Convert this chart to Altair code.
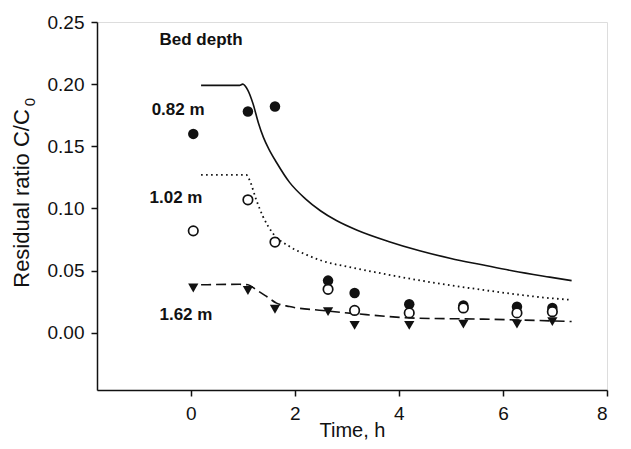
import altair as alt
import pandas as pd

# ---- data ----
times = [0.05, 1.1, 1.62, 2.64, 3.15, 4.2, 5.24, 6.27, 6.95]
depth_082 = [0.160, 0.178, 0.182, 0.042, 0.032, 0.023, 0.022, 0.021, 0.020]
depth_102 = [0.082, 0.107, 0.073, 0.035, 0.018, 0.016, 0.020, 0.016, 0.017]
depth_162 = [0.036, 0.034, 0.019, 0.017, 0.006, 0.006, 0.007, 0.007, 0.009]

model_082_t = [0.2, 0.94, 1.0, 1.1, 1.2, 1.3, 1.4, 1.5, 1.65, 1.9, 2.2, 2.5, 2.8, 3.2, 3.8, 4.4, 5.0, 5.6, 6.2, 6.9, 7.32]
model_082_v = [0.199, 0.199, 0.2, 0.195, 0.184, 0.169, 0.157, 0.148, 0.137, 0.121, 0.108, 0.098, 0.0903, 0.0825, 0.0735, 0.066, 0.0598, 0.0547, 0.0497, 0.0448, 0.042]

model_102_t = [0.2, 1.07, 1.13, 1.26, 1.39, 1.58, 1.9, 2.23, 2.54, 3.1, 3.7, 4.34, 4.98, 5.62, 6.26, 6.9, 7.32]
model_102_v = [0.127, 0.127, 0.123, 0.107, 0.0935, 0.0801, 0.0694, 0.0627, 0.0577, 0.0525, 0.0475, 0.0426, 0.0383, 0.0345, 0.0309, 0.0279, 0.0265]

model_162_t = [0.2, 0.94, 1.1, 1.26, 1.46, 1.65, 1.9, 2.54, 3.19, 4.34, 5.62, 7.32]
model_162_v = [0.0386, 0.039, 0.0386, 0.0346, 0.0292, 0.0239, 0.0211, 0.0179, 0.0153, 0.0118, 0.011, 0.0091]

label_text = ["Bed depth", "0.82 m", "1.02 m", "1.62 m"]
label_t = [-0.6, -0.75, -0.79, -0.6]
label_v = [0.2355, 0.179, 0.1085, 0.0145]

x_ticks = [0, 2, 4, 6, 8]
y_ticks = [0.0, 0.05, 0.10, 0.15, 0.20, 0.25]

FONT = "Liberation Sans"
INK = "#111111"

xscale = alt.Scale(domain=[-1.8, 8], nice=False, zero=False)
yscale = alt.Scale(domain=[-0.046, 0.25], nice=False, zero=False)

xaxis = alt.Axis(values=x_ticks, format="d", grid=False, title="Time, h",
                 domainColor=INK, domainWidth=1.5, tickColor=INK, tickWidth=1.5, tickSize=6,
                 labelFont=FONT, labelFontSize=19, labelColor=INK, labelPadding=8,
                 titleFont=FONT, titleFontSize=20, titleFontWeight="normal", titleColor=INK,
                 titleBaseline="alphabetic", titleY=46)
yaxis = alt.Axis(values=y_ticks, format=".2f", grid=False, title="Residual ratio C/C",
                 domainColor=INK, domainWidth=1.5, tickColor=INK, tickWidth=1.5, tickSize=6,
                 labelFont=FONT, labelFontSize=19, labelColor=INK, labelPadding=7,
                 titleFont=FONT, titleFontSize=22, titleFontWeight="normal", titleColor=INK,
                 titleAngle=270, titleAlign="center", titleBaseline="alphabetic",
                 titleX=-69, titleY=176)


def df(t, v):
    return pd.DataFrame({"t": t, "v": v, "i": list(range(len(t)))})


def enc(ch):
    return ch.encode(x=alt.X("t:Q", scale=xscale, axis=xaxis),
                     y=alt.Y("v:Q", scale=yscale, axis=yaxis))


line082 = enc(alt.Chart(df(model_082_t, model_082_v)).mark_line(color=INK, strokeWidth=1.6, interpolate="monotone")).encode(order="i:Q")
line102 = enc(alt.Chart(df(model_102_t, model_102_v)).mark_line(color=INK, strokeWidth=1.8, strokeDash=[1.6, 3.4], interpolate="monotone")).encode(order="i:Q")
line162 = enc(alt.Chart(df(model_162_t, model_162_v)).mark_line(color=INK, strokeWidth=1.6, strokeDash=[10, 5], interpolate="monotone")).encode(order="i:Q")

pts082 = enc(alt.Chart(df(times, depth_082)).mark_point(shape="circle", filled=True, color=INK, size=110, opacity=1))
pts102 = enc(alt.Chart(df(times, depth_102)).mark_point(shape="circle", filled=True, fill="white", stroke=INK, strokeWidth=1.7, size=90, opacity=1))
pts162 = enc(alt.Chart(df(times, depth_162)).mark_point(shape="triangle-down", filled=True, color=INK, size=105, opacity=1))

labels = enc(alt.Chart(pd.DataFrame({"t": label_t, "v": label_v, "s": label_text})).mark_text(
    font=FONT, fontSize=17, fontWeight="bold", color=INK, align="left", baseline="middle")).encode(text="s:N")

sub = alt.Chart(pd.DataFrame({"s": ["0"]})).mark_text(
    font=FONT, fontSize=15, color=INK, angle=270, align="center", baseline="middle").encode(
    text="s:N", x=alt.value(-67), y=alt.value(80))

chart = alt.layer(line082, line102, line162, pts082, pts102, pts162, labels, sub).properties(
    width=510, height=368,
    autosize=alt.AutoSizeParams(type="none"),
    padding={"left": 89, "top": 14, "right": 10, "bottom": 51},
).configure_view(stroke=None).configure(background="white")

chart.save("out.html", embed_options={"renderer": "svg", "actions": False})
